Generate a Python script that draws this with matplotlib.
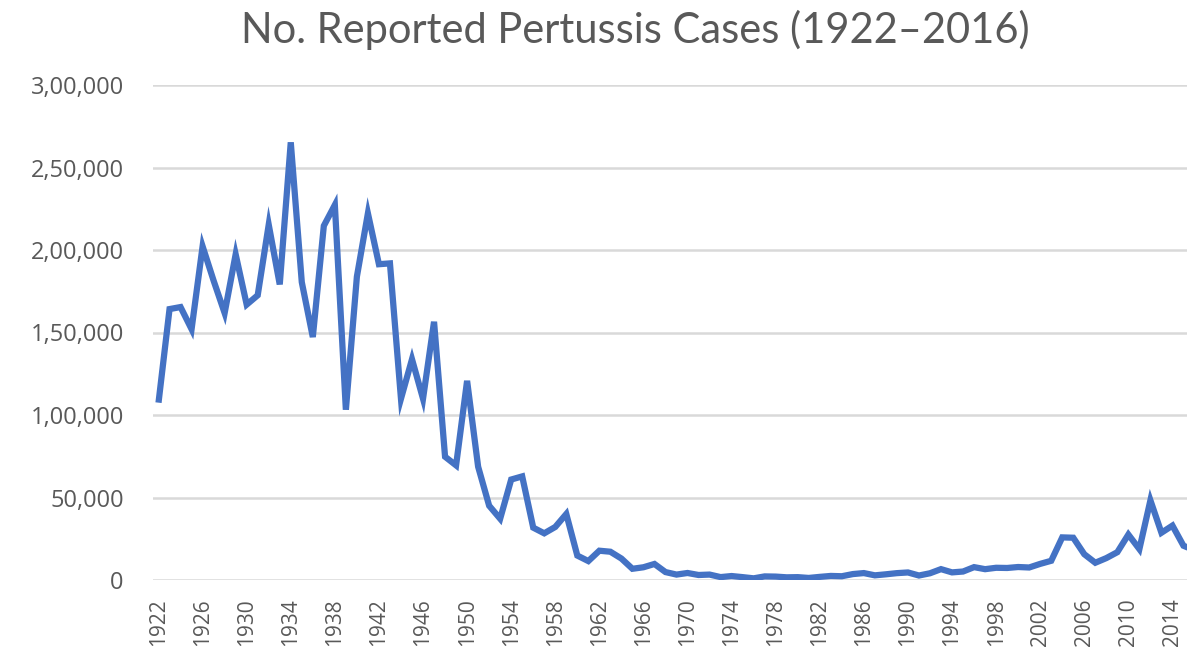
import matplotlib
matplotlib.use('Agg')
import matplotlib.pyplot as plt

years = list(range(1922, 2017))
cases = [
    107473, 164191, 165418, 152003, 202210, 181411, 161799, 197371, 166914, 172559,
    215343, 179135, 265269, 180518, 147237, 214652, 227319, 103188, 183866, 222202,
    191383, 191890, 109873, 133792, 109860, 156517, 74715, 69479, 120718, 68687,
    45030, 37129, 60886, 62786, 31732, 28295, 32148, 40005, 14809, 11468,
    17749, 17135, 13005, 6799, 7717, 9718, 4810, 3285, 4249, 3036,
    3287, 1759, 2402, 1738, 1010, 2177, 2063, 1623, 1730, 1248,
    1895, 2463, 2276, 3589, 4195, 2823, 3450, 4157, 4570, 2719,
    4083, 6586, 4617, 5137, 7796, 6564, 7405, 7288, 7867, 7580,
    9771, 11647, 25827, 25616, 15632, 10454, 13278, 16858, 27550, 18719,
    48277, 28639, 32971, 20762, 17972,
]
ytick_values = [0, 50000, 100000, 150000, 200000, 250000, 300000]
ytick_labels = ['0', '50,000', '1,00,000', '1,50,000', '2,00,000', '2,50,000', '3,00,000']
xtick_years = list(range(1922, 2015, 4))
title = 'No. Reported Pertussis Cases (1922\u20132016)'

W, H = 1187, 652
fig = plt.figure(figsize=(W / 100, H / 100), dpi=100)
ax = fig.add_axes([153 / W, 72 / H, 1047 / W, 495 / H])

ax.plot(years, cases, color='#4472C4', lw=4.5, solid_joinstyle='miter',
        solid_capstyle='butt', zorder=3)

ax.set_xlim(1921.5, 2016.5)
ax.set_ylim(0, 300000)
ax.set_yticks(ytick_values)
ax.set_yticklabels(ytick_labels)
ax.set_xticks(xtick_years)
ax.set_xticklabels([str(y) for y in xtick_years], rotation=90)

for s in ax.spines.values():
    s.set_visible(False)
ax.yaxis.grid(True, color='#D9D9D9', lw=1.8)
ax.set_axisbelow(True)
ax.tick_params(length=0, colors='#595959')
for lab in ax.get_yticklabels():
    lab.set_fontfamily('Open Sans')
    lab.set_fontsize(17)
ax.tick_params(axis='y', pad=21)
for lab in ax.get_xticklabels():
    lab.set_fontfamily('Open Sans')
    lab.set_fontsize(15)
ax.tick_params(axis='x', pad=13)

fig.text(635 / W, 1 - 30 / H, title, ha='center', va='center',
         fontsize=30, color='#595959', family='Lato')

fig.savefig('out.png', dpi=100, facecolor='white')
